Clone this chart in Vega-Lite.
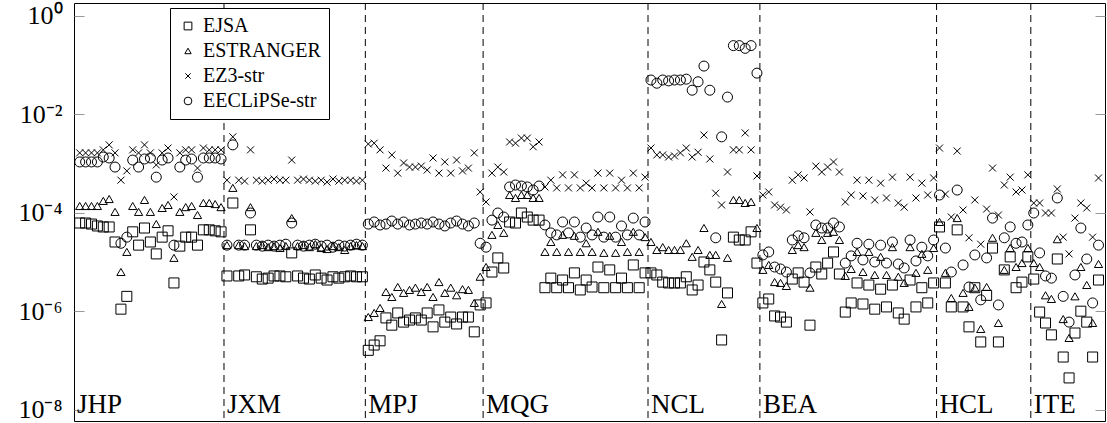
{
  "$schema": "https://vega.github.io/schema/vega-lite/v6.json",
  "width": 1031,
  "height": 418,
  "autosize": {"type": "none"},
  "padding": {"left": 74, "top": 3, "right": 2, "bottom": 2},
  "background": "white",
  "config": {
    "font": "Liberation Serif",
    "view": {"stroke": "black", "strokeWidth": 1},
    "axis": {"grid": false}
  },
  "datasets": {
    "errors": [
      {"i":0,"EJSA":6.2e-5,"ESTRANGER":1.37e-4,"EZ3-str":1.65e-3,"EECLiPSe-str":1.08e-3},
      {"i":1,"EJSA":6.2e-5,"ESTRANGER":1.37e-4,"EZ3-str":1.65e-3,"EECLiPSe-str":1.08e-3},
      {"i":2,"EJSA":5.9e-5,"ESTRANGER":1.37e-4,"EZ3-str":1.65e-3,"EECLiPSe-str":1.08e-3},
      {"i":3,"EJSA":5.4e-5,"ESTRANGER":1.37e-4,"EZ3-str":1.65e-3,"EECLiPSe-str":1.08e-3},
      {"i":4,"EJSA":5.15e-5,"ESTRANGER":1.74e-4,"EZ3-str":1.9e-3,"EECLiPSe-str":1.36e-3},
      {"i":5,"EJSA":5.15e-5,"ESTRANGER":1.9e-4,"EZ3-str":2.4e-3,"EECLiPSe-str":1.3e-3},
      {"i":6,"EJSA":2.55e-5,"ESTRANGER":1.04e-4,"EZ3-str":1.65e-3,"EECLiPSe-str":8.5e-4},
      {"i":7,"EJSA":1.1e-6,"ESTRANGER":6.25e-6,"EZ3-str":4.6e-4,"EECLiPSe-str":2.4e-5},
      {"i":8,"EJSA":2.0e-6,"ESTRANGER":1.6e-5,"EZ3-str":7.1e-4,"EECLiPSe-str":3.2e-5},
      {"i":9,"EJSA":4.1e-5,"ESTRANGER":1.37e-4,"EZ3-str":1.9e-3,"EECLiPSe-str":1.18e-3},
      {"i":10,"EJSA":2.2e-5,"ESTRANGER":1.04e-4,"EZ3-str":1.65e-3,"EECLiPSe-str":8.5e-4},
      {"i":11,"EJSA":4.9e-5,"ESTRANGER":1.82e-4,"EZ3-str":2.4e-3,"EECLiPSe-str":1.24e-3},
      {"i":12,"EJSA":2.55e-5,"ESTRANGER":1.04e-4,"EZ3-str":1.65e-3,"EECLiPSe-str":1.3e-3},
      {"i":13,"EJSA":1.46e-5,"ESTRANGER":5.9e-5,"EZ3-str":9.4e-4,"EECLiPSe-str":5.3e-4},
      {"i":14,"EJSA":3.2e-5,"ESTRANGER":1.25e-4,"EZ3-str":1.65e-3,"EECLiPSe-str":1.18e-3},
      {"i":15,"EJSA":4.3e-5,"ESTRANGER":1.44e-4,"EZ3-str":2.07e-3,"EECLiPSe-str":1.3e-3},
      {"i":16,"EJSA":3.75e-6,"ESTRANGER":1.21e-5,"EZ3-str":2.1e-4,"EECLiPSe-str":2.2e-5},
      {"i":17,"EJSA":2.1e-5,"ESTRANGER":1.04e-4,"EZ3-str":1.65e-3,"EECLiPSe-str":8.5e-4},
      {"i":18,"EJSA":3.2e-5,"ESTRANGER":1.3e-4,"EZ3-str":1.9e-3,"EECLiPSe-str":1.18e-3},
      {"i":19,"EJSA":3.2e-5,"ESTRANGER":1.37e-4,"EZ3-str":1.9e-3,"EECLiPSe-str":1.24e-3},
      {"i":20,"EJSA":2.2e-5,"ESTRANGER":9.0e-5,"EZ3-str":8.1e-4,"EECLiPSe-str":5.3e-4},
      {"i":21,"EJSA":4.5e-5,"ESTRANGER":1.58e-4,"EZ3-str":2.07e-3,"EECLiPSe-str":1.3e-3},
      {"i":22,"EJSA":4.5e-5,"ESTRANGER":1.58e-4,"EZ3-str":1.9e-3,"EECLiPSe-str":1.3e-3},
      {"i":23,"EJSA":4.3e-5,"ESTRANGER":1.5e-4,"EZ3-str":1.9e-3,"EECLiPSe-str":1.3e-3},
      {"i":24,"EJSA":4.1e-5,"ESTRANGER":1.3e-4,"EZ3-str":1.9e-3,"EECLiPSe-str":1.24e-3},
      {"i":25,"EJSA":5.2e-6,"ESTRANGER":2.2e-5,"EZ3-str":4.6e-4,"EECLiPSe-str":2.2e-5},
      {"i":26,"EJSA":1.58e-4,"ESTRANGER":3.2e-4,"EZ3-str":3.5e-3,"EECLiPSe-str":2.4e-3},
      {"i":27,"EJSA":5.2e-6,"ESTRANGER":2.2e-5,"EZ3-str":4.6e-4,"EECLiPSe-str":2.2e-5},
      {"i":28,"EJSA":5.45e-6,"ESTRANGER":2.1e-5,"EZ3-str":4.4e-4,"EECLiPSe-str":2.2e-5},
      {"i":29,"EJSA":4.5e-5,"ESTRANGER":1.3e-4,"EZ3-str":1.9e-3,"EECLiPSe-str":9.9e-5},
      {"i":30,"EJSA":5.0e-6,"ESTRANGER":2.1e-5,"EZ3-str":4.6e-4,"EECLiPSe-str":2.2e-5},
      {"i":31,"EJSA":4.5e-6,"ESTRANGER":2.2e-5,"EZ3-str":4.4e-4,"EECLiPSe-str":2.1e-5},
      {"i":32,"EJSA":4.7e-6,"ESTRANGER":2.0e-5,"EZ3-str":4.6e-4,"EECLiPSe-str":2.2e-5},
      {"i":33,"EJSA":5.2e-6,"ESTRANGER":2.1e-5,"EZ3-str":4.85e-4,"EECLiPSe-str":2.1e-5},
      {"i":34,"EJSA":5.2e-6,"ESTRANGER":1.92e-5,"EZ3-str":4.6e-4,"EECLiPSe-str":2.2e-5},
      {"i":35,"EJSA":5.0e-6,"ESTRANGER":2.1e-5,"EZ3-str":4.6e-4,"EECLiPSe-str":2.3e-5},
      {"i":36,"EJSA":1.53e-5,"ESTRANGER":7.8e-5,"EZ3-str":1.18e-3,"EECLiPSe-str":6.2e-5},
      {"i":37,"EJSA":5.2e-6,"ESTRANGER":2.1e-5,"EZ3-str":4.6e-4,"EECLiPSe-str":2.2e-5},
      {"i":38,"EJSA":4.7e-6,"ESTRANGER":2.2e-5,"EZ3-str":4.85e-4,"EECLiPSe-str":2.1e-5},
      {"i":39,"EJSA":4.5e-6,"ESTRANGER":2.0e-5,"EZ3-str":4.6e-4,"EECLiPSe-str":2.2e-5},
      {"i":40,"EJSA":5.45e-6,"ESTRANGER":2.3e-5,"EZ3-str":4.4e-4,"EECLiPSe-str":2.3e-5},
      {"i":41,"EJSA":4.7e-6,"ESTRANGER":1.92e-5,"EZ3-str":4.6e-4,"EECLiPSe-str":2.1e-5},
      {"i":42,"EJSA":4.3e-6,"ESTRANGER":1.83e-5,"EZ3-str":4.2e-4,"EECLiPSe-str":2.2e-5},
      {"i":43,"EJSA":5.0e-6,"ESTRANGER":2.1e-5,"EZ3-str":4.85e-4,"EECLiPSe-str":2.0e-5},
      {"i":44,"EJSA":4.7e-6,"ESTRANGER":2.0e-5,"EZ3-str":4.4e-4,"EECLiPSe-str":2.2e-5},
      {"i":45,"EJSA":5.0e-6,"ESTRANGER":1.75e-5,"EZ3-str":4.6e-4,"EECLiPSe-str":2.1e-5},
      {"i":46,"EJSA":5.2e-6,"ESTRANGER":2.1e-5,"EZ3-str":4.6e-4,"EECLiPSe-str":2.2e-5},
      {"i":47,"EJSA":5.0e-6,"ESTRANGER":2.2e-5,"EZ3-str":4.4e-4,"EECLiPSe-str":2.3e-5},
      {"i":48,"EJSA":5.0e-6,"ESTRANGER":2.1e-5,"EZ3-str":4.6e-4,"EECLiPSe-str":2.2e-5},
      {"i":49,"EJSA":1.6e-7,"ESTRANGER":7.6e-7,"EZ3-str":2.5e-3,"EECLiPSe-str":5.9e-5},
      {"i":50,"EJSA":2.05e-7,"ESTRANGER":9.2e-7,"EZ3-str":2.6e-3,"EECLiPSe-str":6.5e-5},
      {"i":51,"EJSA":2.5e-7,"ESTRANGER":1.16e-6,"EZ3-str":1.9e-3,"EECLiPSe-str":5.65e-5},
      {"i":52,"EJSA":7.3e-7,"ESTRANGER":2.45e-6,"EZ3-str":8.1e-4,"EECLiPSe-str":5.9e-5},
      {"i":53,"EJSA":5.2e-7,"ESTRANGER":1.94e-6,"EZ3-str":1.5e-3,"EECLiPSe-str":6.8e-5},
      {"i":54,"EJSA":9.2e-7,"ESTRANGER":3.1e-6,"EZ3-str":6.4e-4,"EECLiPSe-str":5.9e-5},
      {"i":55,"EJSA":6.0e-7,"ESTRANGER":2.35e-6,"EZ3-str":1.03e-3,"EECLiPSe-str":6.5e-5},
      {"i":56,"EJSA":6.6e-7,"ESTRANGER":2.7e-6,"EZ3-str":8.5e-4,"EECLiPSe-str":5.65e-5},
      {"i":57,"EJSA":7.3e-7,"ESTRANGER":3.0e-6,"EZ3-str":8.5e-4,"EECLiPSe-str":5.9e-5},
      {"i":58,"EJSA":6.6e-7,"ESTRANGER":2.45e-6,"EZ3-str":8.9e-4,"EECLiPSe-str":6.2e-5},
      {"i":59,"EJSA":9.2e-7,"ESTRANGER":3.1e-6,"EZ3-str":7.4e-4,"EECLiPSe-str":5.9e-5},
      {"i":60,"EJSA":4.8e-7,"ESTRANGER":1.94e-6,"EZ3-str":1.3e-3,"EECLiPSe-str":6.5e-5},
      {"i":61,"EJSA":1.06e-6,"ESTRANGER":3.9e-6,"EZ3-str":6.4e-4,"EECLiPSe-str":5.9e-5},
      {"i":62,"EJSA":6.0e-7,"ESTRANGER":2.35e-6,"EZ3-str":1.08e-3,"EECLiPSe-str":5.4e-5},
      {"i":63,"EJSA":7.6e-7,"ESTRANGER":3.0e-6,"EZ3-str":6.4e-4,"EECLiPSe-str":6.2e-5},
      {"i":64,"EJSA":5.5e-7,"ESTRANGER":2.1e-6,"EZ3-str":1.18e-3,"EECLiPSe-str":6.8e-5},
      {"i":65,"EJSA":7.6e-7,"ESTRANGER":2.8e-6,"EZ3-str":7.1e-4,"EECLiPSe-str":5.9e-5},
      {"i":66,"EJSA":7.6e-7,"ESTRANGER":2.7e-6,"EZ3-str":8.1e-4,"EECLiPSe-str":5.4e-5},
      {"i":67,"EJSA":3.8e-7,"ESTRANGER":1.47e-6,"EZ3-str":1.65e-3,"EECLiPSe-str":6.2e-5},
      {"i":68,"EJSA":1.34e-6,"ESTRANGER":5.0e-6,"EZ3-str":2.65e-4,"EECLiPSe-str":2.4e-5},
      {"i":69,"EJSA":1.47e-6,"ESTRANGER":7.9e-6,"EZ3-str":1.66e-4,"EECLiPSe-str":2.0e-5},
      {"i":70,"EJSA":6.25e-6,"ESTRANGER":3.55e-5,"EZ3-str":6.4e-4,"EECLiPSe-str":7.1e-5},
      {"i":71,"EJSA":1.21e-5,"ESTRANGER":5.65e-5,"EZ3-str":8.5e-4,"EECLiPSe-str":9.9e-5},
      {"i":72,"EJSA":7.55e-6,"ESTRANGER":3.9e-5,"EZ3-str":6.75e-4,"EECLiPSe-str":8.2e-5},
      {"i":73,"EJSA":6.5e-5,"ESTRANGER":2.3e-4,"EZ3-str":2.75e-3,"EECLiPSe-str":3.35e-4},
      {"i":74,"EJSA":6.2e-5,"ESTRANGER":2.0e-4,"EZ3-str":2.6e-3,"EECLiPSe-str":3.67e-4},
      {"i":75,"EJSA":9.9e-5,"ESTRANGER":2.3e-4,"EZ3-str":3.3e-3,"EECLiPSe-str":3.5e-4},
      {"i":76,"EJSA":8.2e-5,"ESTRANGER":2.3e-4,"EZ3-str":3.3e-3,"EECLiPSe-str":3.35e-4},
      {"i":77,"EJSA":7.1e-5,"ESTRANGER":2.0e-4,"EZ3-str":2.2e-3,"EECLiPSe-str":2.9e-4},
      {"i":78,"EJSA":7.1e-5,"ESTRANGER":2.0e-4,"EZ3-str":2.75e-3,"EECLiPSe-str":3.5e-4},
      {"i":79,"EJSA":3.0e-6,"ESTRANGER":1.6e-5,"EZ3-str":3.35e-4,"EECLiPSe-str":5.65e-5},
      {"i":80,"EJSA":4.7e-6,"ESTRANGER":2.55e-5,"EZ3-str":4.6e-4,"EECLiPSe-str":3.9e-5},
      {"i":81,"EJSA":3.0e-6,"ESTRANGER":1.6e-5,"EZ3-str":3.2e-4,"EECLiPSe-str":3.55e-5},
      {"i":82,"EJSA":4.3e-6,"ESTRANGER":3.55e-5,"EZ3-str":5.9e-4,"EECLiPSe-str":6.5e-5},
      {"i":83,"EJSA":3.0e-6,"ESTRANGER":1.6e-5,"EZ3-str":3.2e-4,"EECLiPSe-str":3.9e-5},
      {"i":84,"EJSA":6.0e-6,"ESTRANGER":3.4e-5,"EZ3-str":5.9e-4,"EECLiPSe-str":6.5e-5},
      {"i":85,"EJSA":2.7e-6,"ESTRANGER":1.6e-5,"EZ3-str":3.2e-4,"EECLiPSe-str":3.2e-5},
      {"i":86,"EJSA":4.3e-6,"ESTRANGER":2.4e-5,"EZ3-str":4.0e-4,"EECLiPSe-str":4.9e-5},
      {"i":87,"EJSA":3.1e-6,"ESTRANGER":1.6e-5,"EZ3-str":3.2e-4,"EECLiPSe-str":3.55e-5},
      {"i":88,"EJSA":7.9e-6,"ESTRANGER":4.1e-5,"EZ3-str":6.4e-4,"EECLiPSe-str":8.2e-5},
      {"i":89,"EJSA":3.0e-6,"ESTRANGER":1.53e-5,"EZ3-str":3.2e-4,"EECLiPSe-str":3.2e-5},
      {"i":90,"EJSA":6.9e-6,"ESTRANGER":3.4e-5,"EZ3-str":6.4e-4,"EECLiPSe-str":8.2e-5},
      {"i":91,"EJSA":3.0e-6,"ESTRANGER":1.53e-5,"EZ3-str":3.2e-4,"EECLiPSe-str":3.2e-5},
      {"i":92,"EJSA":4.7e-6,"ESTRANGER":2.55e-5,"EZ3-str":4.6e-4,"EECLiPSe-str":5.4e-5},
      {"i":93,"EJSA":3.0e-6,"ESTRANGER":1.6e-5,"EZ3-str":3.2e-4,"EECLiPSe-str":3.55e-5},
      {"i":94,"EJSA":8.7e-6,"ESTRANGER":4.1e-5,"EZ3-str":6.4e-4,"EECLiPSe-str":7.8e-5},
      {"i":95,"EJSA":3.0e-6,"ESTRANGER":1.6e-5,"EZ3-str":3.2e-4,"EECLiPSe-str":3.55e-5},
      {"i":96,"EJSA":6.0e-6,"ESTRANGER":3.2e-5,"EZ3-str":5.3e-4,"EECLiPSe-str":6.5e-5},
      {"i":97,"EJSA":6.0e-6,"ESTRANGER":2.55e-5,"EZ3-str":2.07e-3,"EECLiPSe-str":0.05},
      {"i":98,"EJSA":5.45e-6,"ESTRANGER":1.75e-5,"EZ3-str":1.5e-3,"EECLiPSe-str":0.043},
      {"i":99,"EJSA":3.9e-6,"ESTRANGER":2.0e-5,"EZ3-str":1.5e-3,"EECLiPSe-str":0.05},
      {"i":100,"EJSA":3.75e-6,"ESTRANGER":1.75e-5,"EZ3-str":1.36e-3,"EECLiPSe-str":0.048},
      {"i":101,"EJSA":3.75e-6,"ESTRANGER":1.75e-5,"EZ3-str":1.43e-3,"EECLiPSe-str":0.05},
      {"i":102,"EJSA":3.75e-6,"ESTRANGER":1.75e-5,"EZ3-str":1.65e-3,"EECLiPSe-str":0.05},
      {"i":103,"EJSA":5.0e-6,"ESTRANGER":2.4e-5,"EZ3-str":2.07e-3,"EECLiPSe-str":0.052},
      {"i":104,"EJSA":2.7e-6,"ESTRANGER":1.27e-5,"EZ3-str":1.36e-3,"EECLiPSe-str":0.031},
      {"i":105,"EJSA":3.4e-6,"ESTRANGER":1.75e-5,"EZ3-str":1.7e-3,"EECLiPSe-str":0.046},
      {"i":106,"EJSA":1.0e-5,"ESTRANGER":4.9e-5,"EZ3-str":3.8e-3,"EECLiPSe-str":0.096},
      {"i":107,"EJSA":6.9e-6,"ESTRANGER":1.39e-5,"EZ3-str":1.24e-3,"EECLiPSe-str":0.031},
      {"i":108,"EJSA":3.9e-6,"ESTRANGER":1.39e-5,"EZ3-str":2.5e-4,"EECLiPSe-str":3.1e-5},
      {"i":109,"EJSA":2.6e-7,"ESTRANGER":1.4e-6,"EZ3-str":1.44e-4,"EECLiPSe-str":3.5e-3},
      {"i":110,"EJSA":2.35e-6,"ESTRANGER":1.21e-5,"EZ3-str":6.75e-4,"EECLiPSe-str":0.0225},
      {"i":111,"EJSA":3.2e-5,"ESTRANGER":1.82e-4,"EZ3-str":1.9e-3,"EECLiPSe-str":0.25},
      {"i":112,"EJSA":2.8e-5,"ESTRANGER":1.82e-4,"EZ3-str":1.9e-3,"EECLiPSe-str":0.25},
      {"i":113,"EJSA":2.8e-5,"ESTRANGER":1.58e-4,"EZ3-str":4.2e-3,"EECLiPSe-str":0.22},
      {"i":114,"EJSA":4.1e-5,"ESTRANGER":1.66e-4,"EZ3-str":1.9e-3,"EECLiPSe-str":0.25},
      {"i":115,"EJSA":9.5e-6,"ESTRANGER":4.9e-5,"EZ3-str":5.6e-4,"EECLiPSe-str":0.069},
      {"i":116,"EJSA":1.47e-6,"ESTRANGER":6.9e-6,"EZ3-str":2.3e-4,"EECLiPSe-str":1.39e-5},
      {"i":117,"EJSA":1.77e-6,"ESTRANGER":8.7e-6,"EZ3-str":2.65e-4,"EECLiPSe-str":1.6e-5},
      {"i":118,"EJSA":8.0e-7,"ESTRANGER":3.9e-6,"EZ3-str":1.44e-4,"EECLiPSe-str":7.9e-6},
      {"i":119,"EJSA":7.6e-7,"ESTRANGER":3.75e-6,"EZ3-str":1.3e-4,"EECLiPSe-str":7.2e-6},
      {"i":120,"EJSA":6.0e-7,"ESTRANGER":3.25e-6,"EZ3-str":1.14e-4,"EECLiPSe-str":6.25e-6},
      {"i":121,"EJSA":4.5e-6,"ESTRANGER":1.75e-5,"EZ3-str":4.6e-4,"EECLiPSe-str":2.8e-5},
      {"i":122,"EJSA":6.0e-6,"ESTRANGER":2.2e-5,"EZ3-str":5.9e-4,"EECLiPSe-str":3.4e-5},
      {"i":123,"EJSA":3.9e-6,"ESTRANGER":2.0e-5,"EZ3-str":5.1e-4,"EECLiPSe-str":3.1e-5},
      {"i":124,"EJSA":5.2e-7,"ESTRANGER":3.0e-6,"EZ3-str":1.04e-4,"EECLiPSe-str":6.0e-6},
      {"i":125,"EJSA":7.9e-6,"ESTRANGER":3.9e-5,"EZ3-str":8.9e-4,"EECLiPSe-str":5.65e-5},
      {"i":126,"EJSA":5.7e-6,"ESTRANGER":2.8e-5,"EZ3-str":6.75e-4,"EECLiPSe-str":4.9e-5},
      {"i":127,"EJSA":9.5e-6,"ESTRANGER":3.9e-5,"EZ3-str":8.5e-4,"EECLiPSe-str":4.9e-5},
      {"i":128,"EJSA":1.6e-5,"ESTRANGER":4.1e-5,"EZ3-str":1.08e-3,"EECLiPSe-str":6.2e-5},
      {"i":129,"EJSA":5.7e-6,"ESTRANGER":2.8e-5,"EZ3-str":6.75e-4,"EECLiPSe-str":5.15e-5},
      {"i":130,"EJSA":9.6e-7,"ESTRANGER":5.2e-6,"EZ3-str":1.66e-4,"EECLiPSe-str":9.5e-6},
      {"i":131,"EJSA":1.47e-6,"ESTRANGER":7.2e-6,"EZ3-str":2.3e-4,"EECLiPSe-str":1.33e-5},
      {"i":132,"EJSA":3.75e-6,"ESTRANGER":1.6e-5,"EZ3-str":4.6e-4,"EECLiPSe-str":2.4e-5},
      {"i":133,"EJSA":1.4e-6,"ESTRANGER":6.25e-6,"EZ3-str":2.2e-4,"EECLiPSe-str":1.1e-5},
      {"i":134,"EJSA":3.4e-6,"ESTRANGER":1.6e-5,"EZ3-str":4.6e-4,"EECLiPSe-str":2.3e-5},
      {"i":135,"EJSA":1.1e-6,"ESTRANGER":5.45e-6,"EZ3-str":1.82e-4,"EECLiPSe-str":1.0e-5},
      {"i":136,"EJSA":2.8e-6,"ESTRANGER":1.27e-5,"EZ3-str":4.0e-4,"EECLiPSe-str":2.2e-5},
      {"i":137,"EJSA":1.22e-6,"ESTRANGER":5.45e-6,"EZ3-str":2.0e-4,"EECLiPSe-str":9.5e-6},
      {"i":138,"EJSA":3.4e-6,"ESTRANGER":2.0e-5,"EZ3-str":5.3e-4,"EECLiPSe-str":2.55e-5},
      {"i":139,"EJSA":9.2e-7,"ESTRANGER":5.0e-6,"EZ3-str":1.58e-4,"EECLiPSe-str":9.1e-6},
      {"i":140,"EJSA":6.9e-7,"ESTRANGER":3.75e-6,"EZ3-str":1.3e-4,"EECLiPSe-str":7.55e-6},
      {"i":141,"EJSA":4.3e-6,"ESTRANGER":2.0e-5,"EZ3-str":5.3e-4,"EECLiPSe-str":2.8e-5},
      {"i":142,"EJSA":1.22e-6,"ESTRANGER":6.0e-6,"EZ3-str":2.0e-4,"EECLiPSe-str":1.05e-5},
      {"i":143,"EJSA":3.0e-6,"ESTRANGER":1.46e-5,"EZ3-str":4.0e-4,"EECLiPSe-str":2.0e-5},
      {"i":144,"EJSA":1.47e-6,"ESTRANGER":6.9e-6,"EZ3-str":2.3e-4,"EECLiPSe-str":1.33e-5},
      {"i":145,"EJSA":3.75e-6,"ESTRANGER":1.92e-5,"EZ3-str":5.1e-4,"EECLiPSe-str":2.8e-5},
      {"i":146,"EJSA":5.15e-5,"ESTRANGER":6.5e-5,"EZ3-str":2.07e-3,"EECLiPSe-str":2.3e-4},
      {"i":147,"EJSA":3.75e-6,"ESTRANGER":6.0e-6,"EZ3-str":2.4e-4,"EECLiPSe-str":1.92e-5},
      {"i":148,"EJSA":1.22e-6,"ESTRANGER":1.85e-6,"EZ3-str":8.2e-5,"EECLiPSe-str":6.25e-6},
      {"i":149,"EJSA":4.5e-5,"ESTRANGER":7.8e-5,"EZ3-str":1.8e-3,"EECLiPSe-str":2.9e-4},
      {"i":150,"EJSA":1.22e-6,"ESTRANGER":2.35e-6,"EZ3-str":1.14e-4,"EECLiPSe-str":8.7e-6},
      {"i":151,"EJSA":4.8e-7,"ESTRANGER":1.22e-6,"EZ3-str":3.1e-5,"EECLiPSe-str":3.1e-6},
      {"i":152,"EJSA":3.0e-6,"ESTRANGER":3.0e-6,"EZ3-str":1.82e-4,"EECLiPSe-str":1.39e-5},
      {"i":153,"EJSA":2.37e-7,"ESTRANGER":4.35e-7,"EZ3-str":2.3e-5,"EECLiPSe-str":1.7e-6},
      {"i":154,"EJSA":2.1e-6,"ESTRANGER":3.1e-6,"EZ3-str":1.19e-4,"EECLiPSe-str":1.21e-5},
      {"i":155,"EJSA":1.92e-5,"ESTRANGER":3.1e-5,"EZ3-str":8.1e-4,"EECLiPSe-str":7.8e-5},
      {"i":156,"EJSA":2.37e-7,"ESTRANGER":5.75e-7,"EZ3-str":9.0e-5,"EECLiPSe-str":1.34e-6},
      {"i":157,"EJSA":6.9e-6,"ESTRANGER":6.9e-6,"EZ3-str":3.67e-4,"EECLiPSe-str":3.1e-5},
      {"i":158,"EJSA":1.27e-5,"ESTRANGER":1.92e-5,"EZ3-str":5.3e-4,"EECLiPSe-str":5.15e-5},
      {"i":159,"EJSA":3.0e-6,"ESTRANGER":7.9e-6,"EZ3-str":2.65e-4,"EECLiPSe-str":2.4e-5},
      {"i":160,"EJSA":3.9e-6,"ESTRANGER":9.5e-6,"EZ3-str":2.9e-4,"EECLiPSe-str":2.55e-5},
      {"i":161,"EJSA":1.27e-5,"ESTRANGER":1.92e-5,"EZ3-str":5.9e-4,"EECLiPSe-str":5.65e-5},
      {"i":162,"EJSA":4.5e-6,"ESTRANGER":9.5e-6,"EZ3-str":1.58e-4,"EECLiPSe-str":9.9e-5},
      {"i":163,"EJSA":9.6e-7,"ESTRANGER":7.9e-6,"EZ3-str":1.58e-4,"EECLiPSe-str":1.53e-5},
      {"i":164,"EJSA":5.75e-7,"ESTRANGER":2.1e-6,"EZ3-str":9.9e-5,"EECLiPSe-str":5.2e-6},
      {"i":165,"EJSA":3.3e-7,"ESTRANGER":1.77e-6,"EZ3-str":9.9e-5,"EECLiPSe-str":4.7e-6},
      {"i":166,"EJSA":1.15e-5,"ESTRANGER":2.9e-5,"EZ3-str":3.05e-4,"EECLiPSe-str":2.0e-4},
      {"i":167,"EJSA":1.17e-7,"ESTRANGER":6.9e-7,"EZ3-str":3.2e-5,"EECLiPSe-str":2.0e-6},
      {"i":168,"EJSA":4.4e-8,"ESTRANGER":2.85e-7,"EZ3-str":1.46e-5,"EECLiPSe-str":6.0e-7},
      {"i":169,"EJSA":3.6e-7,"ESTRANGER":2.0e-6,"EZ3-str":7.8e-5,"EECLiPSe-str":5.45e-6},
      {"i":170,"EJSA":1.0e-6,"ESTRANGER":7.9e-6,"EZ3-str":1.58e-4,"EECLiPSe-str":4.9e-5},
      {"i":171,"EJSA":6.0e-7,"ESTRANGER":3.4e-6,"EZ3-str":1.25e-4,"EECLiPSe-str":1.15e-5},
      {"i":172,"EJSA":1.17e-7,"ESTRANGER":5.75e-7,"EZ3-str":3.2e-5,"EECLiPSe-str":1.47e-6},
      {"i":173,"EJSA":4.3e-6,"ESTRANGER":9.1e-6,"EZ3-str":5.1e-4,"EECLiPSe-str":2.2e-5}
    ],
    "groups": [
      {"name":"JHP","start":-0.97,"divider":false},
      {"name":"JXM","start":24.5,"divider":true},
      {"name":"MPJ","start":48.5,"divider":true},
      {"name":"MQG","start":68.5,"divider":true},
      {"name":"NCL","start":96.5,"divider":true},
      {"name":"BEA","start":115.5,"divider":true},
      {"name":"HCL","start":145.5,"divider":true},
      {"name":"ITE","start":161.5,"divider":true}
    ]
  },
  "resolve": {"axis": {"y": "independent"}},
  "layer": [
    {
      "data": {"name": "groups"},
      "transform": [{"filter": "datum.divider"}],
      "mark": {"type": "rule", "color": "black", "strokeWidth": 1, "strokeDash": [7, 5]},
      "encoding": {
        "x": {"field": "start", "type": "quantitative", "scale": {"domain": [-0.97, 174.1], "nice": false, "zero": false}, "axis": null}
      }
    },
    {
      "data": {"name": "errors"},
      "transform": [{"fold": ["EJSA", "ESTRANGER", "EZ3-str", "EECLiPSe-str"], "as": ["method", "error"]}],
      "mark": {"type": "point", "filled": false, "stroke": "black", "strokeWidth": 1, "size": 100, "opacity": 1},
      "encoding": {
        "x": {"field": "i", "type": "quantitative", "scale": {"domain": [-0.97, 174.1], "nice": false, "zero": false}, "axis": null},
        "y": {
          "field": "error", "type": "quantitative",
          "scale": {"type": "log", "domain": [5.86e-9, 1.837], "nice": false},
          "axis": {
            "orient": "left", "title": null, "domain": false, "grid": false,
            "values": [1, 0.01, 0.0001, 0.000001, 0.00000001],
            "labelExpr": "datum.value >= 0.5 ? '10⁰' : datum.value >= 0.005 ? '10⁻²' : datum.value >= 0.00005 ? '10⁻⁴' : datum.value >= 0.0000005 ? '10⁻⁶' : '10⁻⁸'",
            "labelFont": "Liberation Serif", "labelFontSize": 26, "labelColor": "black",
            "labelPadding": 22, "tickSize": -10, "tickColor": "#999999", "tickWidth": 1,
            "labelFlush": false, "labelOverlap": false, "labelBound": false
          }
        },
        "shape": {
          "field": "method", "type": "nominal",
          "scale": {
            "domain": ["EJSA", "ESTRANGER", "EZ3-str", "EECLiPSe-str"],
            "range": ["square", "M0,-0.72L0.82,0.7L-0.82,0.7Z", "M-0.7,-0.7L0.7,0.7M-0.7,0.7L0.7,-0.7", "circle"]
          },
          "legend": {
            "title": null, "orient": "none", "legendX": 96, "legendY": 5,
            "fillColor": "white", "strokeColor": "black", "padding": 8,
            "symbolSize": 60, "symbolStrokeColor": "black", "symbolFillColor": "transparent", "symbolStrokeWidth": 1,
            "labelFont": "Liberation Serif", "labelFontSize": 20, "labelColor": "black", "labelOffset": 5,
            "rowPadding": 5, "labelLimit": 300
          }
        }
      }
    },
    {
      "data": {"name": "groups"},
      "mark": {"type": "text", "align": "left", "baseline": "alphabetic", "dx": 3, "font": "Liberation Serif", "fontSize": 27, "color": "black"},
      "encoding": {
        "x": {"field": "start", "type": "quantitative", "scale": {"domain": [-0.97, 174.1], "nice": false, "zero": false}, "axis": null},
        "y": {
          "datum": 8.5e-9, "type": "quantitative",
          "scale": {"type": "log", "domain": [5.86e-9, 1.837], "nice": false},
          "axis": {
            "orient": "right", "title": null, "domain": false, "grid": false, "labels": false,
            "values": [1, 0.01, 0.0001, 0.000001, 0.00000001],
            "tickSize": -10, "tickColor": "#999999", "tickWidth": 1
          }
        },
        "text": {"field": "name"}
      }
    }
  ]
}
